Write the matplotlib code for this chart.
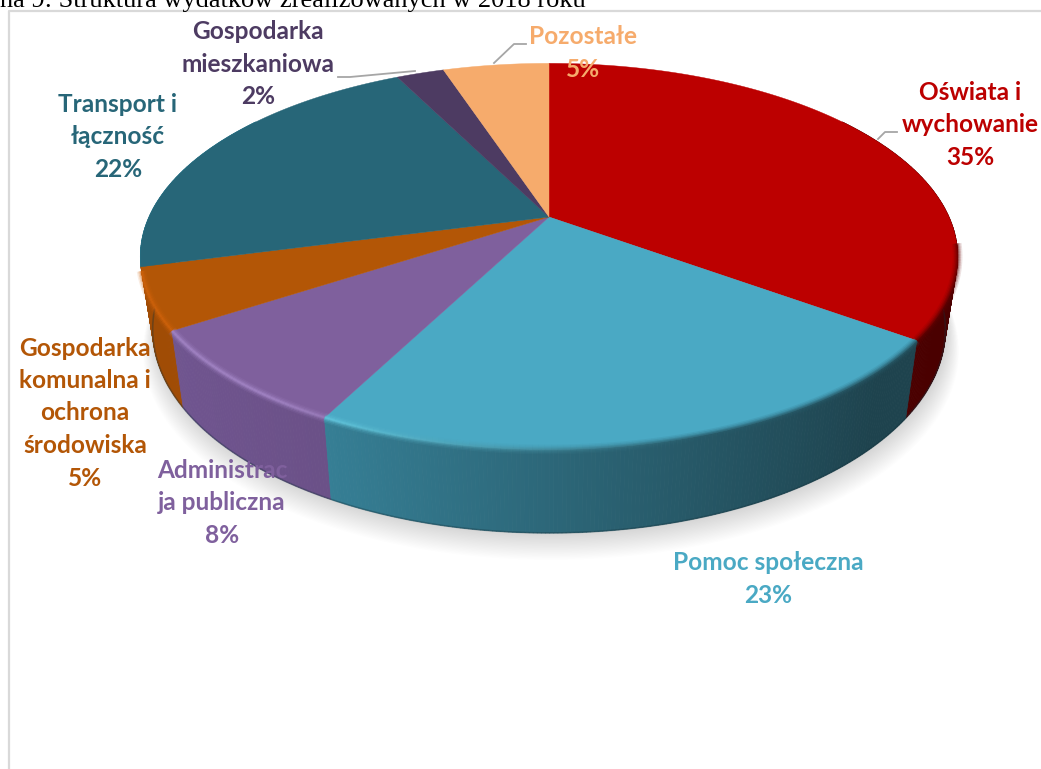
import numpy as np
import matplotlib
matplotlib.use('Agg')
import matplotlib.pyplot as plt
from matplotlib.collections import LineCollection, PolyCollection
from matplotlib.colors import to_rgb

# Chart values (clockwise from the top of the pie), labels show them rounded
categories = ['Oświata i\nwychowanie', 'Pomoc społeczna', 'Administrac\nja publiczna',
              'Gospodarka\nkomunalna i\nochrona\nśrodowiska', 'Transport i\nłączność',
              'Gospodarka\nmieszkaniowa', 'Pozostałe']
values = [35.0, 22.6, 8.2, 5.1, 21.7, 2.3, 5.1]
title = 'na 9: Struktura wydatków zrealizowanych w 2018 roku'

# Colours per slice
top_colors = ['#BC0000', '#4AA9C4', '#7F609D', '#B35606', '#276678', '#4D3B62', '#F6AB6C']
wall_left = ['#4F0000', '#3E93AD', '#705590', '#A04C05', '#2A7F95', '#4D3B62', '#F6AB6C']
wall_right = ['#4A0000', '#1E434E', '#5C446F', '#964604', '#276678', '#4D3B62', '#F6AB6C']
glow_colors = ['#7A0000', '#6FDDF5', '#A88ACB', '#D2640C', '#2E8BA3', '#4D3B62', '#F6AB6C']
text_colors = ['#BC0000', '#4AA9C4', '#7F609D', '#B35606', '#276678', '#4D3B62', '#F6AB6C']

# Label layout
label_pos = [(970, 125), (768, 579), (222, 503), (85, 413), (118, 137), (258, 64), (583, 53)]

# Perspective of the pie
CX = 549
K = 0.204


def project(theta, half_w, y0, half_h):
    u = np.sin(theta)
    v = np.cos(theta)
    w = 1 + K * v
    return CX + half_w * u / w, y0 - half_h * v / w


def top_xy(theta):
    return project(theta, 400, 217, 185)


def bottom_xy(theta):
    return project(theta, 388, 288, 195)


def mix(c1, c2, t):
    a, b = np.array(to_rgb(c1)), np.array(to_rgb(c2))
    return tuple(a + (b - a) * t)


fig = plt.figure(figsize=(10.41, 7.69), dpi=100)
ax = fig.add_axes([0, 0, 1, 1])
ax.set_xlim(0, 1041)
ax.set_ylim(769, 0)
ax.axis('off')

# Chart frame and the cut off caption above it
ax.plot([8.5, 8.5, 1041], [769, 10.5, 10.5], color='#D9D9D9', lw=1.6, zorder=1)
ax.text(0, 6.5, title, family='Liberation Serif', fontsize=19, color='black', va='baseline', ha='left')

edges = np.radians(np.concatenate([[0], np.cumsum(values)]) * 3.6)

# Soft shadow under the pie
ring = np.linspace(0, 2 * np.pi, 300)
for i in range(20):
    sx, sy = project(ring, 388 + i * 0.6, 290 + i * 1.0, 195 + i * 0.25)
    ax.fill(sx + 2, sy, color='black', alpha=0.009, lw=0, zorder=2)

# Side wall, thin strips painted back to front
strips = []
for i, name in enumerate(categories):
    a0 = max(edges[i], np.radians(55))
    a1 = min(edges[i + 1], np.radians(305))
    if a1 <= a0:
        continue
    steps = np.linspace(a0, a1, max(3, int((a1 - a0) * 120)))
    for s0, s1 in zip(steps[:-1], steps[1:]):
        x0, y0 = top_xy(s0)
        x1, y1 = top_xy(s1)
        x2, y2 = bottom_xy(s1)
        x3, y3 = bottom_xy(s0)
        # lighter to the left of the chart, darker to the right
        t = np.clip((np.sin((s0 + s1) / 2) + 0.85) / 1.55, 0, 1)
        strips.append((np.cos(s0), [(x0, y0), (x1, y1), (x2, y2), (x3, y3)], mix(wall_left[i], wall_right[i], t)))
strips.sort(key=lambda item: -item[0])
ax.add_collection(PolyCollection([s[1] for s in strips], facecolors=[s[2] for s in strips],
                                 edgecolors=[s[2] for s in strips], linewidths=0.6, zorder=3))

# Dark line along the lower edge
low = np.radians(np.linspace(80, 280, 200))
lx, ly = bottom_xy(low)
ax.plot(lx, ly, color='#12303A', lw=1.2, alpha=0.35, zorder=3)

# Top face
for i in range(len(values)):
    arc = np.linspace(edges[i], edges[i + 1], 120)
    x, y = top_xy(arc)
    ax.fill(np.r_[CX, x], np.r_[217, y], color=top_colors[i], lw=0.3, zorder=4)

# Bevel along the front of the rim only
segs, cols = [], []
for i in range(len(values)):
    a0 = max(edges[i], np.radians(98))
    a1 = min(edges[i + 1], np.radians(254))
    if a1 <= a0:
        continue
    steps = np.linspace(a0, a1, max(3, int((a1 - a0) * 80)))
    for s0, s1 in zip(steps[:-1], steps[1:]):
        x0, y0 = top_xy(s0)
        x1, y1 = top_xy(s1)
        segs.append([(x0, y0), (x1, y1)])
        u = np.sin((s0 + s1) / 2)
        t = np.clip(0.35 - u * 1.1, 0, 1)
        cols.append(mix(mix(top_colors[i], wall_right[i], 0.75), glow_colors[i], t))
for lw, alpha in [(7, 0.12), (5, 0.2), (3, 0.35), (1.5, 0.5)]:
    ax.add_collection(LineCollection(segs, colors=cols, linewidths=lw, alpha=alpha, capstyle='butt', zorder=5))

# Leader lines
leaders = [([494, 514, 526], [63, 44, 44]),
           ([338, 350, 415], [77, 77, 71]),
           ([878, 885, 897], [139, 132, 132])]
for lx, ly in leaders:
    ax.plot(lx, ly, color='#A6A6A6', lw=1.3, zorder=6)

# Data labels
for name, val, pos, col in zip(categories, values, label_pos, text_colors):
    ax.text(pos[0], pos[1], f'{name}\n{round(val)}%', family='Lato', fontweight='bold', fontsize=17.6,
            color=col, ha='center', va='center', linespacing=1.5, zorder=7)

plt.savefig('out.png', dpi=100)
